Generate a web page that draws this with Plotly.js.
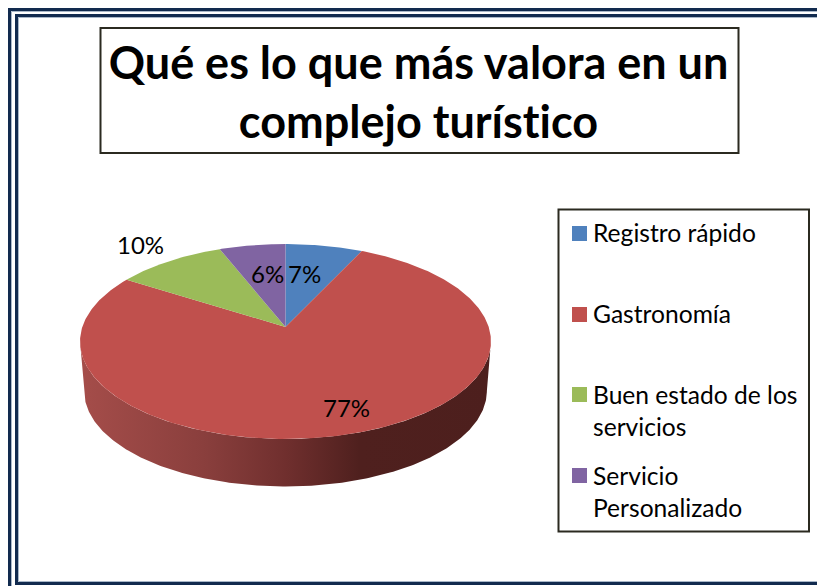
<!DOCTYPE html>
<html>
<head>
<meta charset="utf-8">
<script src="https://cdn.plot.ly/plotly-3.0.1.min.js"></script>
<style>html,body{margin:0;padding:0;background:#fff;overflow:hidden}#chart{width:817px;height:586px}
svg text{font-variant-ligatures:none;font-feature-settings:"liga" 0,"clig" 0}</style>
</head>
<body>
<div id="chart"></div>
<script>
// ---- Data ----
const categories = ["Registro rápido", "Gastronomía", "Buen estado de los servicios", "Servicio Personalizado"];
const legendLabels = ["Registro rápido", "Gastronomía", "Buen estado de los<br>servicios", "Servicio<br>Personalizado"];
const values = [7, 77, 10, 6];
const colors = ["#4f81bd", "#c0504d", "#9bbb59", "#8064a2"];
const titleText = "Qué es lo que más valora en un<br>complejo turístico";

// ---- Layout / projection ----
const apex = {x: 285.5, y: 327};
const proj = {a: 203.2, b: 95.3, k: 0.1487};       // tilted-disc perspective
const wall = {scale: 0.98, shift: 49.5};            // depth of the pie edge
const labelPos = [[304.5, 273], [346, 407], [140, 244], [267.5, 273]];
const legendSwatchY = [233.5, 314.5, 394.5, 475.5];
const legendTextTop = [217, 298, 378.5, 459.5];
const FONT = "Lato, Carlito, sans-serif";

function project(theta, depth) {
  const u = Math.sin(theta), v = Math.cos(theta), w = 1 + proj.k * v;
  const s = depth ? wall.scale : 1;
  const ellipseCy = apex.y + proj.b * proj.k / (1 - proj.k * proj.k);
  const X = proj.a * u / w * s;
  const Y = -proj.b * v / w;
  const yTop = apex.y + Y;
  return [apex.x + X, depth ? ellipseCy + (yTop - ellipseCy) * s + wall.shift : yTop];
}
function arc(t0, t1, depth) {
  const n = Math.max(2, Math.ceil(Math.abs(t1 - t0) * 90)), pts = [];
  for (let i = 0; i <= n; i++) pts.push(project(t0 + (t1 - t0) * i / n, depth));
  return pts;
}

const total = values.reduce((a, b) => a + b, 0);
const traces = [];

// side wall of the pie: front half of the rim (widest point left to widest point right)
const rimT = Math.acos(-proj.k);
const front = arc(rimT, 2 * Math.PI - rimT, false);
const frontLow = arc(2 * Math.PI - rimT, rimT, true);
const wallPts = front.concat(frontLow);
traces.push({
  type: "scatter", mode: "lines", name: "borde",
  x: wallPts.map(p => p[0]), y: wallPts.map(p => p[1]),
  fill: "toself", line: {width: 0, color: "rgba(0,0,0,0)"},
  fillgradient: {type: "horizontal", colorscale: [
    [0, "#a54d4a"], [0.30, "#8a3f3d"], [0.50, "#702f2e"], [0.68, "#4f201e"], [1, "#4d1f1d"]
  ]},
  hoverinfo: "skip", showlegend: false
});

// top face slices
let cum = 0;
values.forEach((v, i) => {
  const t0 = cum / total * 2 * Math.PI;
  cum += v;
  const t1 = cum / total * 2 * Math.PI;
  const pts = [[apex.x, apex.y]].concat(arc(t0, t1, false), [[apex.x, apex.y]]);
  traces.push({
    type: "scatter", mode: "lines", name: categories[i],
    x: pts.map(p => p[0]), y: pts.map(p => p[1]),
    fill: "toself", fillcolor: colors[i], line: {width: 0, color: colors[i]},
    hoverinfo: "name", showlegend: false
  });
});

// legend swatches
traces.push({
  type: "scatter", mode: "markers",
  x: colors.map(() => 579.5), y: legendSwatchY,
  marker: {symbol: "square", size: 15, color: colors, line: {width: 0}},
  hoverinfo: "skip", showlegend: false
});

const annotations = [];
values.forEach((v, i) => annotations.push({
  x: labelPos[i][0], y: labelPos[i][1], xref: "x", yref: "y", text: v + "%", showarrow: false,
  xanchor: "center", yanchor: "middle", font: {family: FONT, size: 24, color: "#000"}
}));
legendLabels.forEach((t, i) => annotations.push({
  x: 592, y: legendTextTop[i], xref: "x", yref: "y", text: t, showarrow: false, align: "left",
  xanchor: "left", yanchor: "top", borderpad: 0, font: {family: FONT, size: 24.6, color: "#000"}
}));

function rect(x0, y0, x1, y1, color, w) {
  return {type: "rect", xref: "x", yref: "y", x0, y0, x1, y1, line: {color, width: w}, fillcolor: "rgba(0,0,0,0)"};
}
const shapes = [
  rect(11.5, 11.5, 840, 620, "#a9b8c9", 1),
  rect(9.5, 9.5, 840, 620, "#122b4f", 3),
  rect(18.5, 17.5, 840, 581.5, "#a9b8c9", 1),
  rect(16.5, 15.5, 840, 583.5, "#122b4f", 3),
  rect(100.5, 28, 738.5, 153, "#2b2a20", 2),
  rect(558.5, 209.5, 809, 531.5, "#2b2a20", 2)
];

const layout = {
  width: 817, height: 586, autosize: false,
  margin: {l: 0, r: 0, t: 0, b: 0, pad: 0},
  paper_bgcolor: "#fff", plot_bgcolor: "#fff",
  title: {text: titleText, x: 418.5 / 817, xanchor: "center", xref: "paper",
          y: 1 - 79 / 586, yanchor: "middle", yref: "paper",
          font: {family: FONT, size: 45, color: "#000", weight: 700}},
  xaxis: {range: [0, 817], visible: false, fixedrange: true},
  yaxis: {range: [586, 0], visible: false, fixedrange: true},
  showlegend: false, shapes, annotations
};
Plotly.newPlot("chart", traces, layout, {displayModeBar: false});
</script>
</body>
</html>
